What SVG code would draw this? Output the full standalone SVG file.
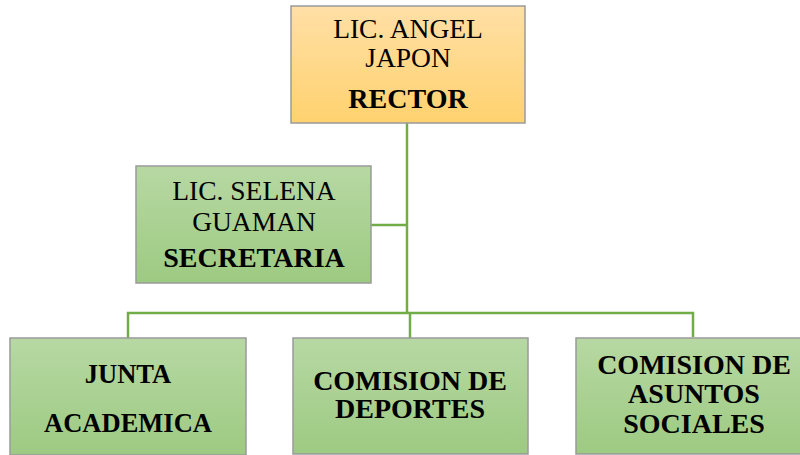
<svg xmlns="http://www.w3.org/2000/svg" width="800" height="455" viewBox="0 0 800 455">
<defs>
<linearGradient id="gold" x1="0" y1="0" x2="0" y2="1">
<stop offset="0" stop-color="#FFDFA6"/>
<stop offset="1" stop-color="#FFD26F"/>
</linearGradient>
<linearGradient id="green" x1="0" y1="0" x2="0" y2="1">
<stop offset="0" stop-color="#B7D8A3"/>
<stop offset="1" stop-color="#9DCA82"/>
</linearGradient>
<style>
.box{stroke:#9a9a9a;stroke-width:1.5}
.g{fill:url(#green)}
.o{fill:url(#gold)}
.t{font-family:"Liberation Serif","Times New Roman",serif;font-size:27.5px;fill:#000;text-anchor:middle}
.b{font-weight:bold;font-size:28px}
.c{fill:none;stroke:#70AD47;stroke-width:2.5}
</style>
</defs>
<g id="connectors">
<path class="c" d="M407 123 V313"/>
<path class="c" d="M371 225 H407"/>
<path class="c" d="M128 338 V313 H693 V337"/>
<path class="c" d="M410 313 V338"/>
</g>
<g id="rector">
<rect class="box o" x="291" y="6" width="234" height="117"/>
<text class="t" x="408" y="38">LIC. ANGEL</text>
<text class="t" x="408" y="67">JAPON</text>
<text class="t b" x="408" y="108">RECTOR</text>
</g>
<g id="secretaria">
<rect class="box g" x="136" y="166" width="235" height="117"/>
<text class="t" x="254" y="200">LIC. SELENA</text>
<text class="t" x="254" y="231">GUAMAN</text>
<text class="t b" x="254" y="267">SECRETARIA</text>
</g>
<g id="junta">
<rect class="box g" x="10" y="338" width="236" height="117"/>
<text class="t b" x="128" y="383" style="font-size:26.5px">JUNTA</text>
<text class="t b" x="128" y="432" style="font-size:26.5px">ACADEMICA</text>
</g>
<g id="deportes">
<rect class="box g" x="293" y="338" width="235" height="116"/>
<text class="t b" x="410" y="390">COMISION DE</text>
<text class="t b" x="410" y="418">DEPORTES</text>
</g>
<g id="sociales">
<rect class="box g" x="576" y="338" width="236" height="116"/>
<text class="t b" x="694" y="374">COMISION DE</text>
<text class="t b" x="694" y="403">ASUNTOS</text>
<text class="t b" x="694" y="433">SOCIALES</text>
</g>
</svg>
